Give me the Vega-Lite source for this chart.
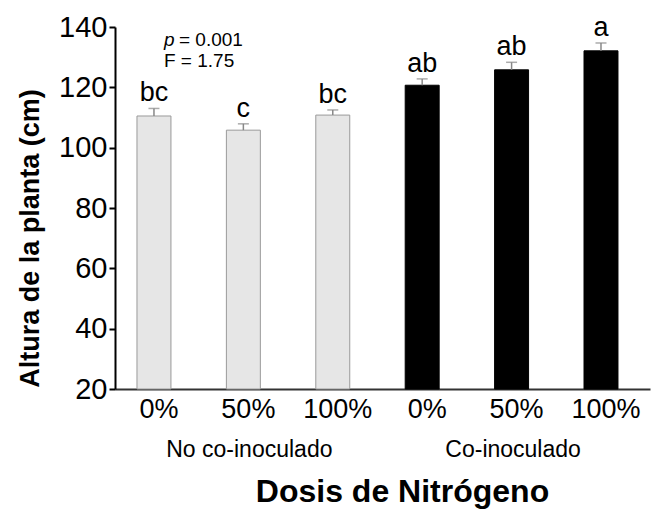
{
  "$schema": "https://vega.github.io/schema/vega-lite/v6.json",
  "width": 535,
  "height": 362,
  "autosize": {"type": "none"},
  "padding": {"left": 115, "top": 27, "right": 3, "bottom": 121},
  "config": {"view": {"stroke": null}, "font": "Liberation Sans"},
  "data": {"values": [
    {"cat": "0%|No", "grupo": "No co-inoculado", "altura": 110.5, "sup": 113.0, "letra": "bc"},
    {"cat": "50%|No", "grupo": "No co-inoculado", "altura": 105.8, "sup": 107.9, "letra": "c"},
    {"cat": "100%|No", "grupo": "No co-inoculado", "altura": 110.8, "sup": 112.5, "letra": "bc"},
    {"cat": "0%|Co", "grupo": "Co-inoculado", "altura": 120.7, "sup": 122.8, "letra": "ab"},
    {"cat": "50%|Co", "grupo": "Co-inoculado", "altura": 125.8, "sup": 128.3, "letra": "ab"},
    {"cat": "100%|Co", "grupo": "Co-inoculado", "altura": 132.1, "sup": 134.7, "letra": "a"}
  ]},
  "encoding": {
    "x": {
      "field": "cat", "type": "nominal", "sort": null,
      "scale": {"paddingInner": 0.62, "paddingOuter": 0.302, "align": 0.407},
      "axis": {
        "labelExpr": "split(datum.label, '|')[0]",
        "labelAngle": 0, "labelFontSize": 27, "labelColor": "#000", "labelPadding": 7, "labelOffset": 5,
        "ticks": false, "domainColor": "#333", "domainWidth": 2,
        "title": "Dosis de Nitrógeno", "titleFontSize": 32, "titleFontWeight": "bold",
        "titleColor": "#000", "titleX": 287, "titleY": 112, "titleBaseline": "alphabetic"
      }
    }
  },
  "layer": [
    {
      "mark": {"type": "bar", "strokeWidth": 1},
      "encoding": {
        "y": {
          "field": "altura", "type": "quantitative",
          "scale": {"domain": [20, 140], "zero": false, "nice": false},
          "axis": {
            "values": [20, 40, 60, 80, 100, 120, 140], "grid": false,
            "labelFontSize": 29, "labelColor": "#000", "labelPadding": 2,
            "tickSize": 6, "tickColor": "#000", "tickWidth": 2, "domainColor": "#000", "domainWidth": 2,
            "title": "Altura de la planta (cm)", "titleFontSize": 27, "titleFontWeight": "bold",
            "titleColor": "#000", "titleX": -85, "titleY": 211, "titleAngle": 270,
            "titleAlign": "center", "titleBaseline": "middle"
          }
        },
        "y2": {"datum": 20},
        "color": {
          "field": "grupo", "type": "nominal", "legend": null,
          "scale": {"domain": ["No co-inoculado", "Co-inoculado"], "range": ["#e6e6e6", "#000000"]}
        },
        "stroke": {
          "field": "grupo", "type": "nominal", "legend": null,
          "scale": {"domain": ["No co-inoculado", "Co-inoculado"], "range": ["#9a9a9a", "#000000"]}
        }
      }
    },
    {
      "mark": {"type": "rule", "color": "#888", "strokeWidth": 1.5},
      "encoding": {"y": {"field": "altura", "type": "quantitative"}, "y2": {"field": "sup"}}
    },
    {
      "mark": {"type": "tick", "color": "#888", "thickness": 1.5, "size": 11},
      "encoding": {"y": {"field": "sup", "type": "quantitative"}}
    },
    {
      "mark": {"type": "text", "fontSize": 27, "fontWeight": "normal", "baseline": "alphabetic", "dy": -7, "color": "#000"},
      "encoding": {"y": {"field": "sup", "type": "quantitative"}, "text": {"field": "letra"}}
    },
    {
      "data": {"values": [{"etiqueta": "No co-inoculado", "pos": "50%|No"}]},
      "mark": {"type": "text", "fontSize": 23, "fontWeight": "normal", "align": "center", "baseline": "alphabetic", "dy": 68, "dx": 6, "color": "#000"},
      "encoding": {"x": {"field": "pos", "type": "nominal"}, "y": {"datum": 20}, "text": {"field": "etiqueta"}}
    },
    {
      "data": {"values": [{"etiqueta": "Co-inoculado", "pos": "50%|Co"}]},
      "mark": {"type": "text", "fontSize": 23, "fontWeight": "normal", "align": "center", "baseline": "alphabetic", "dy": 68, "dx": 1.5, "color": "#000"},
      "encoding": {"x": {"field": "pos", "type": "nominal"}, "y": {"datum": 20}, "text": {"field": "etiqueta"}}
    },
    {
      "data": {"values": [{"t": "p", "pos": "0%|No"}]},
      "mark": {"type": "text", "fontSize": 19, "fontWeight": "normal", "fontStyle": "italic", "align": "left", "baseline": "alphabetic", "dx": 10, "dy": 19, "color": "#000"},
      "encoding": {"x": {"field": "pos", "type": "nominal"}, "y": {"datum": 140}, "text": {"field": "t"}}
    },
    {
      "data": {"values": [{"t": "= 0.001", "pos": "0%|No"}]},
      "mark": {"type": "text", "fontSize": 19, "fontWeight": "normal", "align": "left", "baseline": "alphabetic", "dx": 25, "dy": 19, "color": "#000"},
      "encoding": {"x": {"field": "pos", "type": "nominal"}, "y": {"datum": 140}, "text": {"field": "t"}}
    },
    {
      "data": {"values": [{"t": "F = 1.75", "pos": "0%|No"}]},
      "mark": {"type": "text", "fontSize": 19, "fontWeight": "normal", "align": "left", "baseline": "alphabetic", "dx": 10, "dy": 40, "color": "#000"},
      "encoding": {"x": {"field": "pos", "type": "nominal"}, "y": {"datum": 140}, "text": {"field": "t"}}
    }
  ]
}
